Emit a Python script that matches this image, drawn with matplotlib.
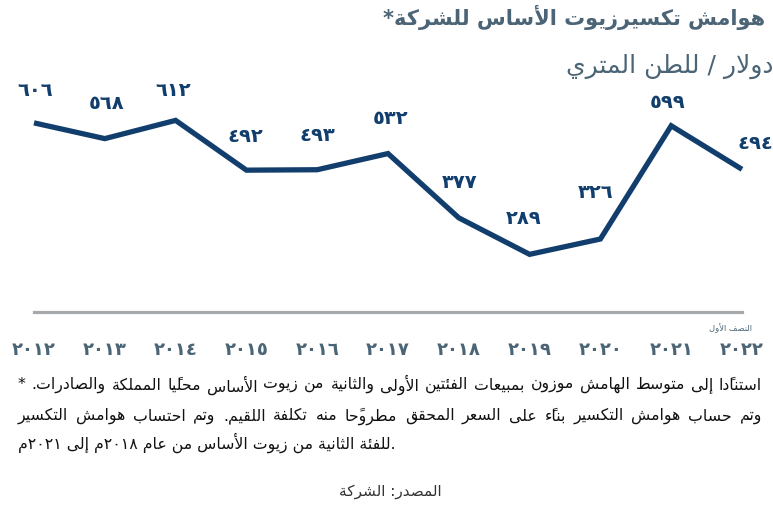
import matplotlib
matplotlib.use("Agg")
import matplotlib.pyplot as plt

years = [2012, 2013, 2014, 2015, 2016, 2017, 2018, 2019, 2020, 2021, 2022]
margins = [606, 568, 612, 492, 493, 532, 377, 289, 326, 599, 494]

title = "هوامش تكسيرزيوت الأساس للشركة*"
unit = "دولار / للطن المتري"
half_year = "النصف الأول"
notes = [
    "* استنادًا إلى متوسط الهامش موزون بمبيعات الفئتين الأولى والثانية من زيوت الأساس محليًا المملكة والصادرات.",
    "وتم حساب هوامش التكسير بناءً على السعر المحقق مطروحًا منه تكلفة اللقيم. وتم احتساب هوامش التكسير",
    "للفئة الثانية من زيوت الأساس من عام ٢٠١٨م إلى ٢٠٢١م.",
]
source = "المصدر: الشركة"

# label offsets (pixels right, pixels up) from each point
label_offsets = [(1, 33), (2, 36), (-2, 31), (-1, 35), (0, 35), (3, 36),
                 (1, 36), (-6, 37), (-5, 48), (-4, 24), (13, 27)]

NAVY = "#123e6d"
SLATE = "#4b6476"
GRAY = "#a7aaac"

# --- minimal Arabic shaping: presentation forms + right-to-left order ---
def _dual(c):
    return (c, c + 1, c + 2, c + 3)

def _right(c):
    return (c, c + 1, None, None)

FORMS = {
    "ء": (0xFE80, None, None, None),
    "آ": _right(0xFE81), "أ": _right(0xFE83), "ؤ": _right(0xFE85),
    "إ": _right(0xFE87), "ئ": _dual(0xFE89), "ا": _right(0xFE8D),
    "ب": _dual(0xFE8F), "ة": _right(0xFE93), "ت": _dual(0xFE95),
    "ث": _dual(0xFE99), "ج": _dual(0xFE9D), "ح": _dual(0xFEA1),
    "خ": _dual(0xFEA5), "د": _right(0xFEA9), "ذ": _right(0xFEAB),
    "ر": _right(0xFEAD), "ز": _right(0xFEAF), "س": _dual(0xFEB1),
    "ش": _dual(0xFEB5), "ص": _dual(0xFEB9), "ض": _dual(0xFEBD),
    "ط": _dual(0xFEC1), "ظ": _dual(0xFEC5), "ع": _dual(0xFEC9),
    "غ": _dual(0xFECD), "ف": _dual(0xFED1), "ق": _dual(0xFED5),
    "ك": _dual(0xFED9), "ل": _dual(0xFEDD), "م": _dual(0xFEE1),
    "ن": _dual(0xFEE5), "ه": _dual(0xFEE9), "و": _right(0xFEED),
    "ى": _right(0xFEEF), "ي": _dual(0xFEF1),
}
LAM_ALEF = {"آ": 0xFEF5, "أ": 0xFEF7, "إ": 0xFEF9, "ا": 0xFEFB}
MARKS = {chr(c) for c in range(0x064B, 0x0653)} | {"\u0670"}
DIGITS = set("0123456789٠١٢٣٤٥٦٧٨٩")


def _jtype(base):
    if len(base) == 2:
        return "R"
    f = FORMS.get(base)
    if f is None:
        return "U"
    if f[2] is not None:
        return "D"
    if f[1] is not None:
        return "R"
    return "U"


def ar(text):
    clusters = []
    for ch in text:
        if ch in MARKS and clusters:
            clusters[-1][1] += ch
        else:
            clusters.append([ch, ""])
    merged = []
    for base, marks in clusters:
        if base in LAM_ALEF and merged and merged[-1][0] == "ل":
            merged[-1] = ["ل" + base, merged[-1][1] + marks]
        else:
            merged.append([base, marks])

    shaped = []
    n = len(merged)
    for i, (base, marks) in enumerate(merged):
        jt = _jtype(base)
        prev_j = i > 0 and _jtype(merged[i - 1][0]) == "D" and jt in "DR"
        next_j = i < n - 1 and jt == "D" and _jtype(merged[i + 1][0]) in "DR"
        if len(base) == 2:
            g = chr(LAM_ALEF[base[1]] + (1 if prev_j else 0))
        elif base in FORMS:
            f = FORMS[base]
            idx = 3 if (prev_j and next_j) else 1 if prev_j else 2 if next_j else 0
            g = chr(f[idx] if f[idx] is not None else f[0])
        else:
            g = base
        shaped.append(g + marks)

    # keep number runs left-to-right, reverse everything else
    tokens = []
    for s in shaped:
        if s in DIGITS and tokens and tokens[-1][-1] in DIGITS:
            tokens[-1] += s
        else:
            tokens.append(s)
    return "".join(reversed(tokens))


def ar_ltr_para(text, first, last):
    # the note is one left-to-right paragraph: its leading "*" and its
    # closing "." keep their left/right places
    head, tail = "", ""
    if first:
        while text and text[0] in "* ":
            head, text = head + text[0], text[1:]
    if last:
        while text and text[-1] == ".":
            tail, text = text[-1] + tail, text[:-1]
    return head + ar(text) + tail


def indic(v):
    return str(v).translate(str.maketrans("0123456789", "٠١٢٣٤٥٦٧٨٩"))


W, H = 773, 506
fig = plt.figure(figsize=(W / 100, H / 100), dpi=100)
plt.rcParams["font.family"] = ["DejaVu Sans"]
renderer = fig.canvas.get_renderer()


def px(x, y):
    return x / W, 1 - y / H


def text_width(s, **kw):
    t = fig.text(0, 0, s, **kw)
    w = t.get_window_extent(renderer).width
    t.remove()
    return w


def note_line(visual, y, x0, x1, justify, **kw):
    if not justify:
        fig.text(*px(x0, y), visual, ha="left", va="center", **kw)
        return
    words = visual.split(" ")
    widths = [text_width(w, **kw) for w in words]
    gap = (x1 - x0 - sum(widths)) / (len(words) - 1)
    x = x0
    for w, wd in zip(words, widths):
        fig.text(*px(x, y), w, ha="left", va="center", **kw)
        x += wd + gap


ax = fig.add_axes([34 / W, 1 - 313 / H, (742 - 34) / W, (313 - 60) / H])
ax.plot(years, margins, color=NAVY, lw=3.8, solid_joinstyle="miter",
        solid_capstyle="butt", clip_on=False)
ax.set_xlim(2012, 2022)
ax.set_ylim(150, 760)

for x, v, (dx, dy) in zip(years, margins, label_offsets):
    ax.annotate(indic(v), (x, v), xytext=(dx * 0.72, dy * 0.72),
                textcoords="offset points", ha="center", va="center",
                fontsize=14, fontweight="bold", color=NAVY)

for side in ["top", "left", "right"]:
    ax.spines[side].set_visible(False)
ax.spines["bottom"].set_color(GRAY)
ax.spines["bottom"].set_linewidth(2.3)
ax.set_yticks([])
ax.set_xticks(years)
ax.set_xticklabels([indic(y) for y in years], fontsize=13,
                   fontweight="bold", color=SLATE)
ax.tick_params(axis="x", length=0, pad=20)

fig.text(*px(765, 17), ar(title), ha="right", va="center",
         fontsize=15, fontweight="bold", color=SLATE)
fig.text(*px(773, 66), ar(unit), ha="right", va="center",
         fontsize=18, color=SLATE)
fig.text(*px(752, 328), ar(half_year), ha="right", va="center",
         fontsize=6, color=SLATE)

note_style = dict(fontsize=11.3, color="#111111")
last = len(notes) - 1
for i, (y, line) in enumerate(zip([385, 416, 443], notes)):
    visual = ar_ltr_para(line, i == 0, i == last)
    note_line(visual, y, 18, 762, i < last, **note_style)
fig.text(*px(390, 492), ar(source), ha="center", va="center",
         fontsize=11, color="#333333")

fig.savefig("out.png", dpi=100)
